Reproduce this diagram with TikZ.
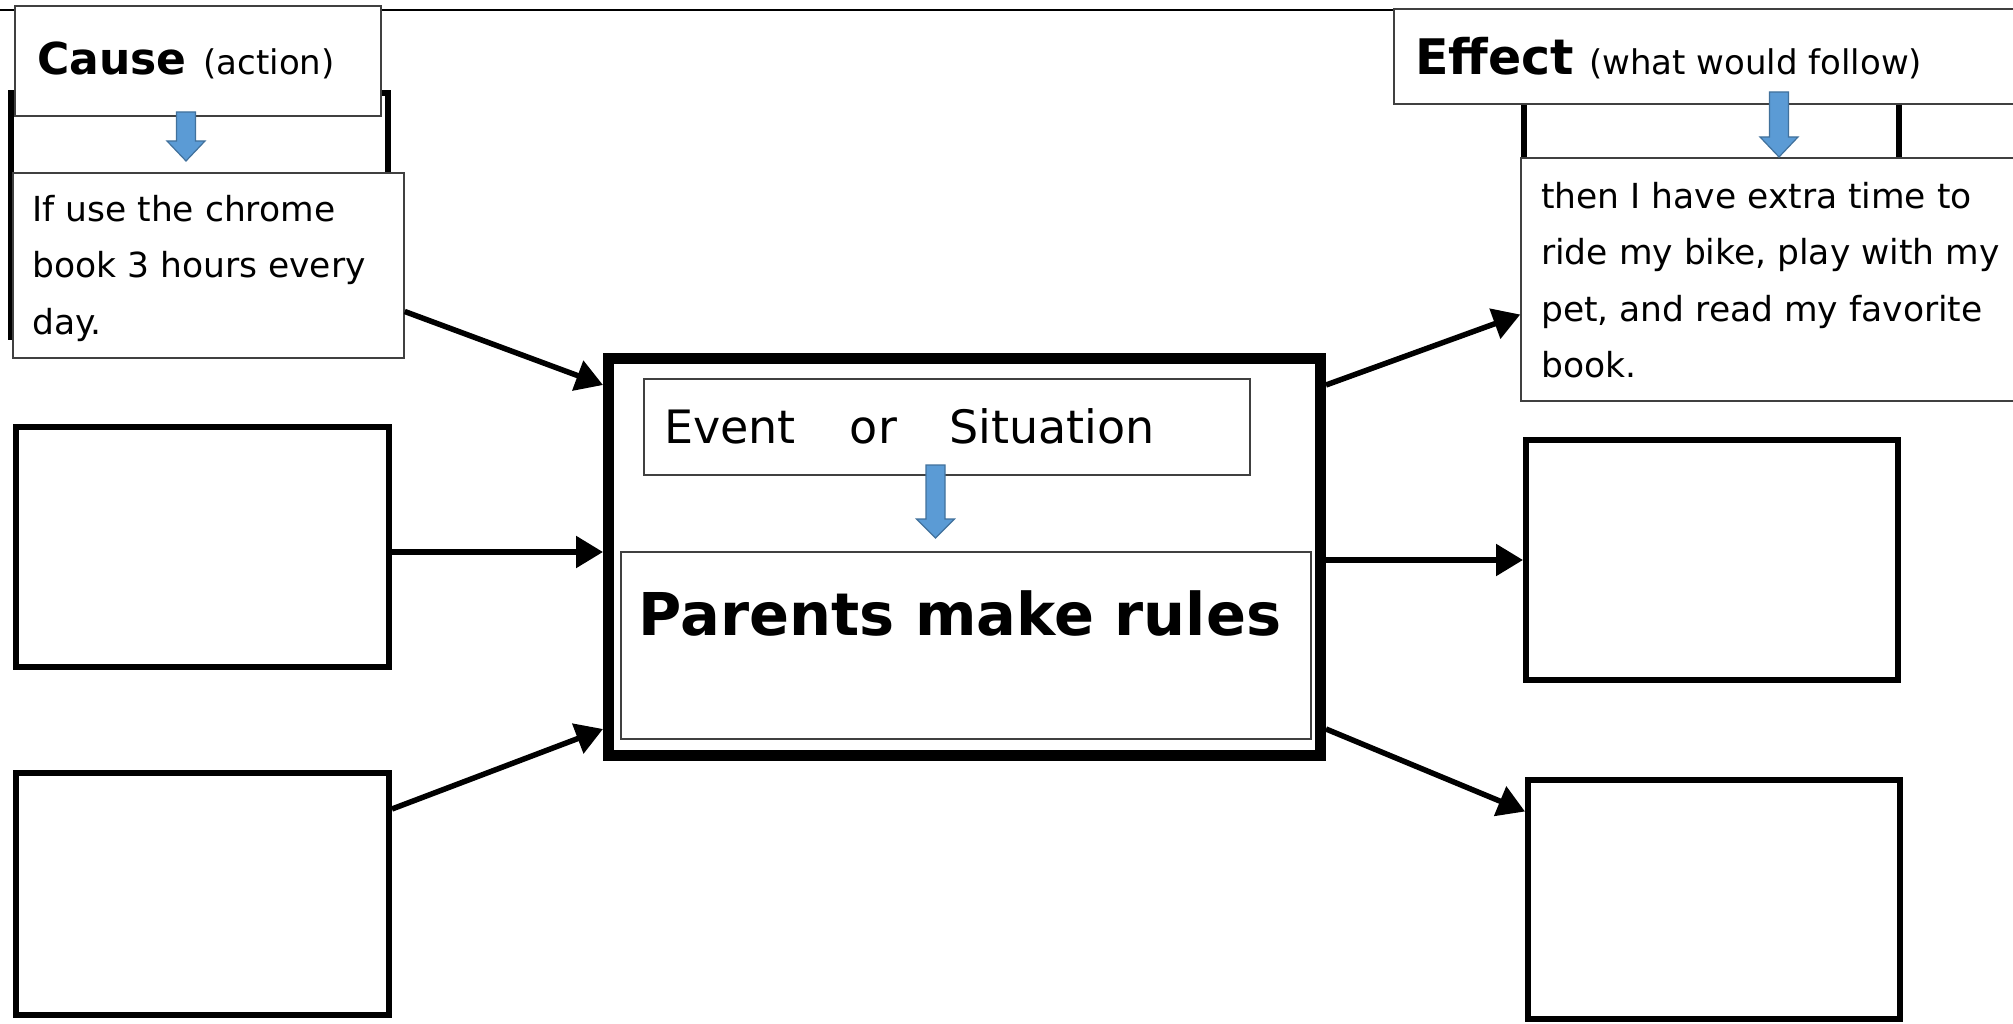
\documentclass[tikz,border=0pt]{standalone}
\usepackage{fontspec}
\setmainfont{DejaVu Sans}
\usetikzlibrary{arrows.meta,calc}
\definecolor{arrowblue}{HTML}{5B9BD5}
\definecolor{arrowedge}{HTML}{41719C}
\definecolor{thingray}{HTML}{404040}
\newcommand{\bluedown}[4]{%
  \filldraw[fill=arrowblue,draw=arrowedge,line width=1.2pt]
    (#1-9.5,#2) -- (#1+9.5,#2) -- (#1+9.5,#3-#4) -- (#1+19,#3-#4) -- (#1,#3)
    -- (#1-19,#3-#4) -- (#1-9.5,#3-#4) -- cycle;}
\begin{document}
\begin{tikzpicture}[x=1pt,y=-1pt,
  thickbox/.style={draw=black,line width=6pt,fill=white,inner sep=0pt},
  bigbox/.style={draw=black,line width=11pt,fill=white,inner sep=0pt},
  thinbox/.style={draw=thingray,line width=1.5pt,fill=white,inner sep=0pt},
  conn/.style={line width=5.5pt,-{Triangle[length=27pt,width=31pt]}},
  body/.style={inner sep=0pt,anchor=west,align=left,font=\fontsize{34.5}{56.5}\selectfont},
  headtxt/.style={inner sep=0pt,anchor=west},
]
\clip (0,0) rectangle (2013,1024);
\fill[white] (0,0) rectangle (2013,1024);

% top rule
\coordinate (ruleL) at (0,10);
\coordinate (ruleR) at (2013,10);
\draw[line width=2pt] (ruleL) -- (ruleR);

% ---- cause column ----
\node[thickbox,minimum width=377pt,minimum height=244pt] (c1) at (199.5,215) {};
\node[thinbox,minimum width=366pt,minimum height=110pt] (chead) at (198,61) {};
\node[headtxt] (cheadtxt) at (37,60) {{\fontsize{44}{50}\selectfont\bfseries Cause}\hspace{17pt}{\fontsize{34}{40}\selectfont (action)}};
\node[thinbox,minimum width=391pt,minimum height=185pt] (ct) at (208.5,265.5) {};
\node[body] (cttxt) at (32,268) {If use the chrome\\book 3 hours every\\day.};
\bluedown{186}{112}{161}{20}
\node[thickbox,minimum width=373pt,minimum height=240pt] (c2) at (202.5,547) {};
\node[thickbox,minimum width=373pt,minimum height=242pt] (c3) at (202.5,894) {};

% ---- centre ----
\node[bigbox,minimum width=712pt,minimum height=397pt] (ev) at (964.5,557) {};
\node[thinbox,minimum width=606pt,minimum height=96pt] (evt) at (947,427) {};
\node[headtxt,font=\fontsize{46}{50}\selectfont] (evttxt) at (664,426) {Event\hspace{54pt}or\hspace{52pt}Situation};
\node[thinbox,minimum width=690pt,minimum height=187pt] (pm) at (966,645.5) {};
\node[inner sep=0pt,font=\fontsize{59}{70}\selectfont\bfseries] (pmtxt) at (960,614) {Parents make rules};
\bluedown{935.5}{465}{538}{19}

% ---- effect column ----
\node[thickbox,minimum width=375pt,minimum height=314pt] (e1) at (1711.5,230) {};
\node[thinbox,minimum width=636pt,minimum height=95pt] (ehead) at (1712,56.5) {};
\node[headtxt] (eheadtxt) at (1415,58) {{\fontsize{49}{54}\selectfont\bfseries Effect}\hspace{15pt}{\fontsize{34}{40}\selectfont (what would follow)}};
\node[thinbox,minimum width=509pt,minimum height=243pt] (et) at (1775.5,279.5) {};
\node[body] (ettxt) at (1541,280) {then I have extra time to\\ride my bike, play with my\\pet, and read my favorite\\book.};
\bluedown{1779}{92}{157}{20}
\node[thickbox,minimum width=372pt,minimum height=240pt] (e2) at (1712,560) {};
\node[thickbox,minimum width=372pt,minimum height=239pt] (e3) at (1714,899.5) {};

% ---- connectors ----
\draw[conn] ([yshift=-46pt]ct.east) -- ([yshift=172pt]ev.west);
\draw[conn] ([yshift=-5pt]c2.east) -- ([yshift=5pt]ev.west);
\draw[conn] ([yshift=85pt]c3.east) -- ([yshift=-172pt]ev.west);
\draw[conn] ([yshift=172pt]ev.east) -- ([yshift=-35pt]et.west);
\draw[conn] ([yshift=-3pt]ev.east) -- (e2.west);
\draw[conn] ([yshift=-172pt]ev.east) -- ([yshift=88pt]e3.west);
\end{tikzpicture}
\end{document}
